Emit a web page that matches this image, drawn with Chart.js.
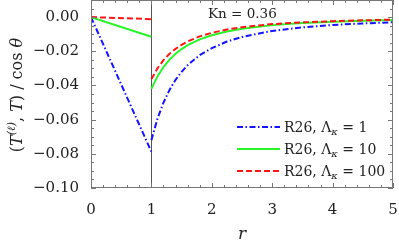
<!DOCTYPE html>
<html><head><meta charset="utf-8">
<script src="https://cdn.jsdelivr.net/npm/chart.js@4/dist/chart.umd.min.js"></script>
<style>html,body{margin:0;padding:0;background:#fff}</style>
</head><body>
<canvas id="c" width="399" height="243" style="width:399px;height:243px;display:block"></canvas>
<script>
// ---- data ----
const rLeft = [0, 1];
const blueLeft = [0, -0.0788];
const greenLeft = [0, -0.0115];
const redLeft = [0, -0.0012];

const rRight = [1, 1.1, 1.2, 1.3, 1.4, 1.5, 1.6, 1.8, 2, 2.25, 2.5, 3, 3.5, 4, 4.5, 5];
const blueRight  = [-0.0720, -0.0595, -0.0500, -0.0426, -0.0367, -0.0320, -0.0281, -0.0222, -0.0182, -0.0143, -0.0116, -0.0081, -0.0060, -0.0046, -0.0037, -0.0030];
const greenRight = [-0.0420, -0.0347, -0.0292, -0.0249, -0.0215, -0.0187, -0.0164, -0.0130, -0.0106, -0.0084, -0.0068, -0.0047, -0.0035, -0.0027, -0.0021, -0.0017];
const redRight   = [-0.0363, -0.0300, -0.0252, -0.0215, -0.0186, -0.0162, -0.0142, -0.0113, -0.0092, -0.0073, -0.0059, -0.0041, -0.0031, -0.0024, -0.0019, -0.0015];

const lambdaValues = ['1', '10', '100'];
const xTicks = [0, 1, 2, 3, 4, 5];
const yTicks = [0, -0.02, -0.04, -0.06, -0.08, -0.10];
const kneText = 'Kn = 0.36';

// ---- styles ----
const FONT = '"DejaVu Serif", serif';
const styles = [
  {color: 'rgb(20,20,255)', dash: [6, 2.5, 1.5, 2.5]},
  {color: 'rgb(40,245,40)', dash: []},
  {color: 'rgb(255,20,20)', dash: [6, 3]}
];

function pts(xs, ys) { return xs.map((x, i) => ({x: x, y: ys[i]})); }
const seriesLeft = [blueLeft, greenLeft, redLeft];
const seriesRight = [blueRight, greenRight, redRight];
const datasets = [];
[2, 1, 0].forEach(i => {
  [[rLeft, seriesLeft[i]], [rRight, seriesRight[i]]].forEach(([xs, ys]) => {
    datasets.push({
      data: pts(xs, ys), showLine: true, pointRadius: 0, borderWidth: 2,
      borderColor: styles[i].color, borderDash: styles[i].dash, fill: false, tension: 0
    });
  });
});

function fmtY(v) {
  const s = Math.abs(v).toFixed(2);
  return (v < -1e-9 ? '\u2212' : '') + s;
}

function drawRich(ctx, parts, x, y, align) {
  let w = 0;
  parts.forEach(p => { ctx.font = p[1]; w += ctx.measureText(p[0]).width; });
  let cx = align === 'center' ? x - w / 2 : x;
  ctx.textAlign = 'left';
  parts.forEach(p => {
    ctx.font = p[1];
    ctx.fillText(p[0], cx, y + (p[2] || 0));
    cx += ctx.measureText(p[0]).width;
  });
}

const decor = {
  id: 'decor',
  beforeDatasetsDraw(chart) {
    const {ctx, chartArea: a, scales: {x}} = chart;
    ctx.save();
    ctx.strokeStyle = '#555';
    ctx.lineWidth = 1;
    const px = Math.round(x.getPixelForValue(1)) + 0.5;
    ctx.beginPath(); ctx.moveTo(px, a.top); ctx.lineTo(px, a.bottom); ctx.stroke();
    ctx.restore();
  },
  afterDraw(chart) {
    const {ctx, chartArea: a, scales: {x, y}} = chart;
    ctx.save();
    ctx.strokeStyle = '#777';
    ctx.lineWidth = 1;
    ctx.strokeRect(a.left + 0.5, a.top + 0.5, a.right - a.left - 1, a.bottom - a.top - 1);
    ctx.beginPath();
    for (let k = 0; k <= 25; k++) {
      const v = k * 0.2;
      const p = Math.round(x.getPixelForValue(v)) + 0.5;
      const len = (k % 5 === 0) ? 5 : 3;
      ctx.moveTo(p, a.bottom); ctx.lineTo(p, a.bottom - len);
      ctx.moveTo(p, a.top); ctx.lineTo(p, a.top + len);
    }
    for (let k = 0; k <= 22; k++) {
      const v = -0.10 + k * 0.005;
      const p = Math.round(y.getPixelForValue(v)) + 0.5;
      const len = (k % 4 === 0) ? 5 : 3;
      ctx.moveTo(a.left, p); ctx.lineTo(a.left + len, p);
      ctx.moveTo(a.right, p); ctx.lineTo(a.right - len, p);
    }
    ctx.stroke();

    ctx.fillStyle = '#222';
    ctx.textBaseline = 'alphabetic';
    ctx.font = '13.5px ' + FONT;
    ctx.textAlign = 'left';
    ctx.fillText(kneText, 208, 18);

    const rows = [127, 149, 171];
    rows.forEach((ry, i) => {
      ctx.save();
      ctx.strokeStyle = styles[i].color;
      ctx.lineWidth = 2;
      ctx.setLineDash(styles[i].dash);
      ctx.beginPath(); ctx.moveTo(237, ry); ctx.lineTo(280, ry); ctx.stroke();
      ctx.restore();
      ctx.fillStyle = '#222';
      drawRich(ctx, [
        ['R26, \u039B', '14px ' + FONT, 0],
        ['\u03BA', 'italic 10px ' + FONT, 3],
        [' = ' + lambdaValues[i], '14px ' + FONT, 0]
      ], 284, ry + 5, 'left');
    });

    ctx.font = 'italic 17px ' + FONT;
    ctx.textAlign = 'center';
    ctx.fillText('r', 242, 239);

    ctx.save();
    ctx.translate(22, 95);
    ctx.rotate(-Math.PI / 2);
    drawRich(ctx, [
      ['(', '16px ' + FONT, 0],
      ['T', 'italic 16px ' + FONT, 0],
      ['(\u2113)', 'italic 11px ' + FONT, -7],
      [', ', '16px ' + FONT, 0],
      ['T', 'italic 16px ' + FONT, 0],
      [') / cos ', '16px ' + FONT, 0],
      ['\u03B8', 'italic 16px ' + FONT, 0]
    ], 0, 0, 'center');
    ctx.restore();
    ctx.restore();
  }
};

new Chart(document.getElementById('c'), {
  type: 'scatter',
  data: {datasets: datasets},
  options: {
    responsive: false, animation: false, devicePixelRatio: 1,
    layout: {padding: {left: 0, right: 6, top: 0, bottom: 0}},
    plugins: {legend: {display: false}, tooltip: {enabled: false}},
    scales: {
      x: {
        type: 'linear', min: 0, max: 5,
        afterBuildTicks: s => { s.ticks = xTicks.map(v => ({value: v})); },
        afterFit: s => { s.height = 55; s.paddingLeft = 0; s.paddingRight = 0; },
        grid: {display: false}, border: {display: false},
        ticks: {font: {family: FONT, size: 15}, color: '#222', padding: 5, maxRotation: 0,
                callback: v => String(v)}
      },
      y: {
        type: 'linear', min: -0.10, max: 0.01,
        afterBuildTicks: s => { s.ticks = yTicks.map(v => ({value: v})); },
        afterFit: s => { s.width = 91; s.paddingTop = 0; s.paddingBottom = 0; },
        grid: {display: false}, border: {display: false},
        ticks: {font: {family: FONT, size: 15}, color: '#222', padding: 4, callback: v => fmtY(v)}
      }
    }
  },
  plugins: [decor]
});
</script>
</body></html>
